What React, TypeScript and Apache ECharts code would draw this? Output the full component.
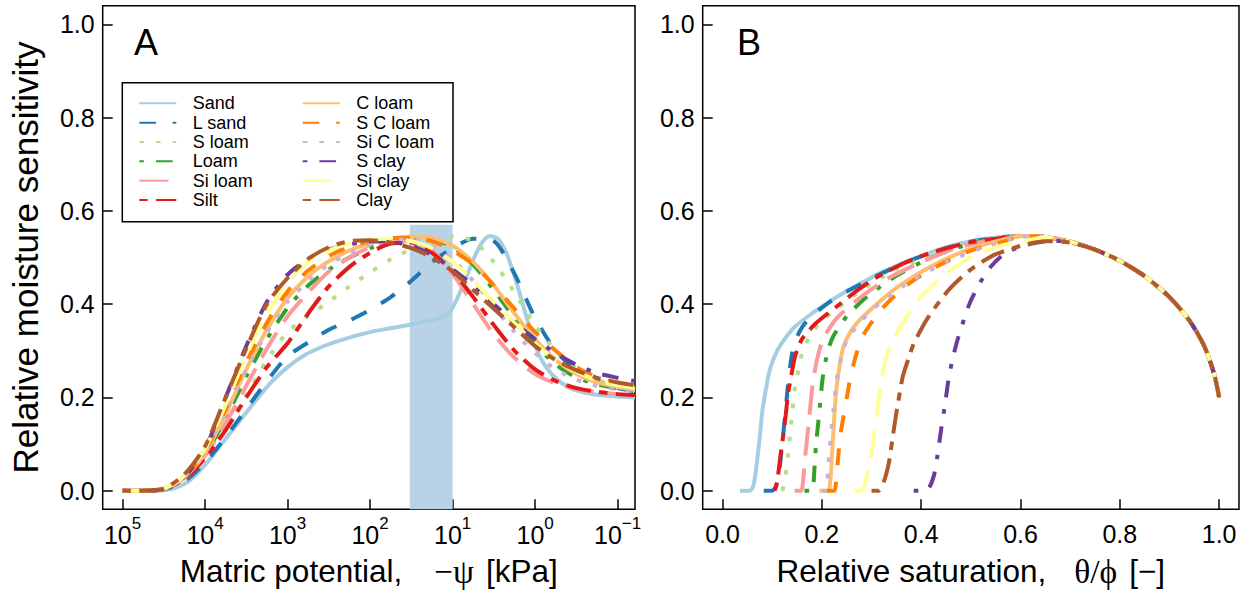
import React, { useEffect, useRef } from "react";
import * as echarts from "echarts";

// ---------- categories & styles ----------
const soilNames = ["Sand", "L sand", "S loam", "Loam", "Si loam", "Silt", "C loam", "S C loam", "Si C loam", "S clay", "Si clay", "Clay"];
const soilColors = ["#A6CEE3", "#1F78B4", "#B2DF8A", "#33A02C", "#FB9A99", "#E31A1C", "#FDBF6F", "#FF7F00", "#CAB2D6", "#6A3D9A", "#FFFF99", "#B15928"];

// ---------- panel A: x = log10(-psi [kPa]) ----------
const logPsiGrid = [5, 4.75, 4.5, 4.25, 4, 3.75, 3.5, 3.25, 3, 2.75, 2.5, 2.25, 2, 1.75, 1.5, 1.25, 1, 0.75, 0.5, 0.25, 0, -0.25, -0.5, -0.75, -1, -1.21];
const sandLogPsi = [5, 4.6, 4.4, 4.2, 4, 3.8, 3.6, 3.4, 3.2, 3, 2.8, 2.6, 2.4, 2.2, 2, 1.8, 1.6, 1.4, 1.2, 1.05, 0.95, 0.85, 0.75, 0.65, 0.55, 0.45, 0.35, 0.25, 0.15, 0.05, -0.05, -0.2, -0.4, -0.6, -0.9, -1.21];
const sandA = [0, 0, 0.004, 0.02, 0.055, 0.1, 0.145, 0.19, 0.232, 0.265, 0.29, 0.307, 0.32, 0.331, 0.34, 0.347, 0.353, 0.36, 0.368, 0.38, 0.41, 0.45, 0.495, 0.53, 0.546, 0.54, 0.51, 0.46, 0.4, 0.34, 0.29, 0.25, 0.222, 0.21, 0.203, 0.2];
const lSandA = [0, 0, 0.003, 0.02, 0.06, 0.115, 0.175, 0.235, 0.288, 0.318, 0.345, 0.365, 0.388, 0.415, 0.45, 0.49, 0.52, 0.54, 0.535, 0.465, 0.37, 0.3, 0.258, 0.235, 0.22, 0.213];
const sLoamA = [0, 0, 0.004, 0.025, 0.07, 0.135, 0.205, 0.28, 0.34, 0.375, 0.405, 0.438, 0.468, 0.496, 0.518, 0.535, 0.545, 0.535, 0.49, 0.425, 0.355, 0.3, 0.262, 0.238, 0.223, 0.216];
const loamA = [0, 0, 0.004, 0.028, 0.078, 0.155, 0.245, 0.325, 0.392, 0.44, 0.474, 0.5, 0.52, 0.535, 0.543, 0.54, 0.522, 0.485, 0.43, 0.37, 0.315, 0.27, 0.243, 0.228, 0.219, 0.214];
const siLoamA = [0, 0, 0.004, 0.027, 0.075, 0.145, 0.225, 0.305, 0.374, 0.425, 0.47, 0.5, 0.522, 0.535, 0.535, 0.515, 0.465, 0.4, 0.335, 0.285, 0.25, 0.23, 0.218, 0.211, 0.207, 0.205];
const siltA = [0, 0, 0.004, 0.025, 0.07, 0.13, 0.2, 0.265, 0.316, 0.38, 0.438, 0.48, 0.51, 0.53, 0.532, 0.51, 0.47, 0.415, 0.355, 0.3, 0.26, 0.235, 0.22, 0.212, 0.207, 0.205];
const cLoamA = [0, 0, 0.004, 0.028, 0.08, 0.165, 0.26, 0.345, 0.413, 0.46, 0.492, 0.515, 0.53, 0.54, 0.545, 0.542, 0.525, 0.49, 0.44, 0.38, 0.325, 0.28, 0.25, 0.232, 0.222, 0.216];
const sCLoamA = [0, 0, 0.004, 0.03, 0.085, 0.175, 0.275, 0.36, 0.427, 0.472, 0.503, 0.523, 0.535, 0.542, 0.542, 0.535, 0.515, 0.485, 0.44, 0.39, 0.34, 0.3, 0.265, 0.243, 0.23, 0.222];
const siCLoamA = [0, 0, 0.004, 0.03, 0.085, 0.17, 0.26, 0.34, 0.405, 0.45, 0.485, 0.51, 0.527, 0.537, 0.538, 0.525, 0.495, 0.45, 0.395, 0.34, 0.295, 0.26, 0.238, 0.225, 0.217, 0.213];
const sClayA = [0, 0, 0.003, 0.03, 0.09, 0.2, 0.31, 0.405, 0.463, 0.497, 0.517, 0.528, 0.535, 0.534, 0.525, 0.505, 0.475, 0.44, 0.4, 0.36, 0.325, 0.295, 0.27, 0.252, 0.242, 0.235];
const siClayA = [0, 0, 0.004, 0.032, 0.09, 0.185, 0.29, 0.38, 0.445, 0.49, 0.515, 0.53, 0.538, 0.54, 0.535, 0.52, 0.49, 0.45, 0.405, 0.36, 0.315, 0.28, 0.255, 0.237, 0.226, 0.22];
const clayA = [0, 0, 0.004, 0.035, 0.095, 0.2, 0.305, 0.4, 0.456, 0.497, 0.522, 0.535, 0.537, 0.532, 0.52, 0.5, 0.47, 0.43, 0.39, 0.35, 0.31, 0.28, 0.258, 0.242, 0.232, 0.226];
const bandKPa = [33, 10];
const bandTop = 0.57;

// ---------- panel B: x = relative saturation ----------
const arcB = [[0.6, 0.546], [0.65, 0.544], [0.7, 0.534], [0.75, 0.517], [0.8, 0.493], [0.85, 0.46], [0.9, 0.415], [0.94, 0.365], [0.97, 0.31], [0.99, 0.25], [1.0, 0.2]];
const sandB = [[0.035, 0], [0.055, 0], [0.062, 0.01], [0.068, 0.05], [0.075, 0.116], [0.08, 0.17], [0.086, 0.209], [0.093, 0.25], [0.1, 0.275], [0.11, 0.3], [0.125, 0.325], [0.146, 0.352], [0.18, 0.38], [0.216, 0.406], [0.25, 0.428], [0.286, 0.449], [0.32, 0.468], [0.357, 0.485], [0.4, 0.503], [0.45, 0.522], [0.5, 0.535], [0.55, 0.543]];
const lSandB = [[0.083, 0], [0.1, 0], [0.108, 0.01], [0.115, 0.05], [0.12, 0.1], [0.126, 0.16], [0.132, 0.23], [0.139, 0.288], [0.146, 0.32], [0.16, 0.35], [0.18, 0.375], [0.216, 0.405], [0.25, 0.427], [0.3, 0.455], [0.357, 0.484], [0.42, 0.51], [0.5, 0.534], [0.55, 0.542]];
const sLoamB = [[0.12, 0], [0.125, 0.016], [0.132, 0.08], [0.139, 0.152], [0.146, 0.224], [0.153, 0.26], [0.16, 0.295], [0.175, 0.33], [0.195, 0.359], [0.23, 0.39], [0.28, 0.43], [0.35, 0.475], [0.42, 0.505], [0.5, 0.532], [0.55, 0.541]];
const loamB = [[0.165, 0], [0.181, 0], [0.184, 0.03], [0.188, 0.095], [0.195, 0.17], [0.202, 0.245], [0.212, 0.3], [0.223, 0.331], [0.251, 0.375], [0.293, 0.418], [0.349, 0.46], [0.42, 0.5], [0.5, 0.53], [0.55, 0.54]];
const siLoamB = [[0.145, 0], [0.158, 0], [0.163, 0.03], [0.167, 0.08], [0.174, 0.15], [0.181, 0.224], [0.19, 0.28], [0.202, 0.324], [0.23, 0.37], [0.272, 0.41], [0.328, 0.452], [0.4, 0.49], [0.47, 0.52], [0.55, 0.54]];
const siltB = [[0.105, 0], [0.11, 0.02], [0.116, 0.07], [0.121, 0.109], [0.127, 0.16], [0.132, 0.209], [0.139, 0.25], [0.146, 0.288], [0.16, 0.325], [0.188, 0.359], [0.23, 0.395], [0.272, 0.43], [0.314, 0.46], [0.37, 0.49], [0.42, 0.51], [0.5, 0.533], [0.55, 0.54]];
const cLoamB = [[0.195, 0], [0.2125, 0], [0.217, 0.02], [0.22, 0.07], [0.223, 0.123], [0.226, 0.175], [0.23, 0.224], [0.236, 0.27], [0.244, 0.31], [0.265, 0.352], [0.3, 0.39], [0.357, 0.44], [0.427, 0.485], [0.497, 0.518], [0.56, 0.537]];
const sCLoamB = [[0.21, 0], [0.225, 0], [0.23, 0.04], [0.237, 0.116], [0.247, 0.18], [0.258, 0.245], [0.27, 0.295], [0.286, 0.338], [0.321, 0.39], [0.37, 0.44], [0.43, 0.48], [0.5, 0.515], [0.57, 0.535]];
const siCLoamB = [[0.2, 0], [0.209, 0], [0.212, 0.04], [0.216, 0.095], [0.223, 0.17], [0.23, 0.238], [0.24, 0.29], [0.251, 0.324], [0.28, 0.365], [0.32, 0.405], [0.38, 0.45], [0.45, 0.49], [0.52, 0.52], [0.57, 0.535]];
const sClayB = [[0.385, 0], [0.402, 0], [0.415, 0.005], [0.425, 0.03], [0.432, 0.07], [0.44, 0.13], [0.448, 0.185], [0.456, 0.245], [0.465, 0.29], [0.475, 0.33], [0.497, 0.4], [0.518, 0.445], [0.54, 0.48], [0.57, 0.51], [0.623, 0.53], [0.67, 0.536], [0.72, 0.528]];
const siClayB = [[0.265, 0], [0.28, 0], [0.29, 0.03], [0.3, 0.08], [0.31, 0.16], [0.318, 0.224], [0.326, 0.27], [0.335, 0.302], [0.363, 0.36], [0.399, 0.415], [0.45, 0.465], [0.5, 0.5], [0.56, 0.525], [0.62, 0.538]];
const clayB = [[0.3, 0], [0.314, 0], [0.325, 0.02], [0.335, 0.06], [0.342, 0.11], [0.349, 0.16], [0.356, 0.205], [0.363, 0.245], [0.375, 0.285], [0.385, 0.315], [0.413, 0.37], [0.455, 0.43], [0.497, 0.472], [0.546, 0.505], [0.6, 0.525], [0.65, 0.535], [0.7, 0.532]];

// ---------- ticks ----------
const yTicks = [0, 0.2, 0.4, 0.6, 0.8, 1.0];
const xTicksA = [5, 4, 3, 2, 1, 0, -1];
const xTicksB = [0, 0.2, 0.4, 0.6, 0.8, 1.0];

const FONT = "Liberation Sans, Arial, sans-serif";
const SERIF = "Liberation Serif, DejaVu Serif, serif";
const U = 4.17;
const dashes: any[] = ["solid", [4 * U, 4 * U], [1.1 * U, 2.9 * U], [1.1 * U, 2.9 * U, 4 * U, 3 * U], [7 * U, 3 * U], [2 * U, 2 * U, 6 * U, 2 * U]];

const panelA: { x: number[]; y: number[] }[] = [
  { x: sandLogPsi, y: sandA },
  { x: logPsiGrid, y: lSandA },
  { x: logPsiGrid, y: sLoamA },
  { x: logPsiGrid, y: loamA },
  { x: logPsiGrid, y: siLoamA },
  { x: logPsiGrid, y: siltA },
  { x: logPsiGrid, y: cLoamA },
  { x: logPsiGrid, y: sCLoamA },
  { x: logPsiGrid, y: siCLoamA },
  { x: logPsiGrid, y: sClayA },
  { x: logPsiGrid, y: siClayA },
  { x: logPsiGrid, y: clayA },
];
const panelB = [sandB, lSandB, sLoamB, loamB, siLoamB, siltB, cLoamB, sCLoamB, siCLoamB, sClayB, siClayB, clayB];

function withArc(pts: number[][]) {
  const last = pts[pts.length - 1][0];
  return pts.concat(arcB.filter((p) => p[0] > last + 0.02));
}

export default function App() {
  const ref = useRef<HTMLDivElement>(null);
  useEffect(() => {
    if (!ref.current) return;
    const chart = echarts.init(ref.current, undefined, { renderer: "svg" });
    const lw = 4;
    const series: any[] = [];
    series.push({
      type: "line",
      name: "band",
      xAxisIndex: 0,
      yAxisIndex: 0,
      data: [],
      z: 1,
      silent: true,
      markArea: {
        silent: true,
        itemStyle: { color: "#B9D2E6" },
        data: [[{ xAxis: Math.log10(bandKPa[0]), yAxis: -0.04 }, { xAxis: Math.log10(bandKPa[1]), yAxis: bandTop }]],
      },
    });
    soilNames.forEach((name, i) => {
      const style = { color: soilColors[i], width: lw, type: dashes[i % 6], cap: "butt" };
      const a = panelA[i];
      series.push({
        type: "line",
        name,
        xAxisIndex: 0,
        yAxisIndex: 0,
        data: a.x.map((u, k) => [u, a.y[k]]),
        symbol: "none",
        smooth: 0.25,
        lineStyle: style,
        itemStyle: { color: soilColors[i], opacity: 0 },
        z: 3,
      });
      series.push({
        type: "line",
        name,
        xAxisIndex: 1,
        yAxisIndex: 1,
        data: withArc(panelB[i]),
        symbol: "none",
        smooth: 0.25,
        lineStyle: style,
        itemStyle: { color: soilColors[i], opacity: 0 },
        z: 3,
      });
    });

    const tickStyle = { color: "#000", width: 1.5 };
    const yAxisBase = (grid: number, withName: boolean) => ({
      type: "value",
      gridIndex: grid,
      min: -0.04,
      max: 1.04,
      splitLine: { show: false },
      axisLine: { show: false, onZero: false },
      axisTick: { inside: true, length: 10, lineStyle: tickStyle, customValues: yTicks },
      axisLabel: {
        customValues: yTicks,
        margin: 8,
        color: "#000",
        fontSize: 25,
        fontFamily: FONT,
        formatter: (v: number) => v.toFixed(1),
      },
      name: withName ? "Relative moisture sensitivity" : "",
      nameLocation: "middle",
      nameGap: 60,
      nameTextStyle: { color: "#000", fontSize: 35, fontFamily: FONT },
    });

    const legendText = {
      color: "#000",
      fontSize: 18,
      fontFamily: FONT,
      lineHeight: 19.33,
      rich: { p: { padding: [0, 0, 0, 11.5], fontSize: 18, lineHeight: 19.33, fontFamily: FONT, color: "#000" } },
    };
    const legendBase = {
      orient: "vertical",
      itemWidth: 37,
      itemHeight: 10,
      itemGap: 0,
      padding: 0,
      itemStyle: { opacity: 0, borderWidth: 0 },
      textStyle: legendText,
      formatter: (n: string) => `{p|${n}}`,
    };

    const nameStyle = (sz: number, gap: number) => ({
      color: "#000",
      fontSize: sz,
      fontFamily: FONT,
      rich: {
        g: { fontSize: sz + 2, fontFamily: SERIF, color: "#000", padding: [0, 0, 0, gap] },
        k: { fontSize: sz, fontFamily: FONT, color: "#000", padding: [0, 0, 0, 12] },
      },
    });

    const option: any = {
      animation: false,
      grid: [
        { left: 102.7, top: 5.7, width: 532.3, height: 503.6, show: true, borderColor: "#000", borderWidth: 1.5, backgroundColor: "transparent" },
        { left: 702.7, top: 5.7, width: 536.3, height: 503.6, show: true, borderColor: "#000", borderWidth: 1.5, backgroundColor: "transparent" },
      ],
      xAxis: [
        {
          type: "value",
          gridIndex: 0,
          min: -1.21,
          max: 5.24,
          inverse: true,
          splitLine: { show: false },
          axisLine: { show: false, onZero: false },
          axisTick: { inside: true, length: 10, lineStyle: tickStyle, customValues: xTicksA },
          axisLabel: {
            customValues: xTicksA,
            margin: 6,
            color: "#000",
            formatter: (v: number) => `{b|10}{s|${v < 0 ? "\u2212" + -v : v}}`,
            rich: {
              b: { fontSize: 25, lineHeight: 40, fontFamily: FONT, color: "#000" },
              s: { fontSize: 17, lineHeight: 17, fontFamily: FONT, color: "#000", verticalAlign: "top" },
            },
          },
          name: "Matric potential,{g|\u2212\u03C8}{k|[kPa]}",
          nameLocation: "middle",
          nameGap: 45,
          nameTextStyle: nameStyle(31.5, 32),
        },
        {
          type: "value",
          gridIndex: 1,
          min: -0.04,
          max: 1.04,
          splitLine: { show: false },
          axisLine: { show: false, onZero: false },
          axisTick: { inside: true, length: 10, lineStyle: tickStyle, customValues: xTicksB },
          axisLabel: {
            customValues: xTicksB,
            margin: 12,
            color: "#000",
            fontSize: 25,
            fontFamily: FONT,
            formatter: (v: number) => v.toFixed(1),
          },
          name: "Relative saturation,{g|\u03B8/\u03D5}{k|[\u2212]}",
          nameLocation: "middle",
          nameGap: 45,
          nameTextStyle: nameStyle(31.5, 28),
        },
      ],
      yAxis: [yAxisBase(0, true), yAxisBase(1, false)],
      legend: [
        { ...legendBase, left: 138.3, top: 93.7, data: soilNames.slice(0, 6) },
        { ...legendBase, left: 301.7, top: 93.7, data: soilNames.slice(6) },
      ],
      graphic: [
        { type: "rect", shape: { x: 122.3, y: 82.7, width: 330.7, height: 139 }, style: { fill: "none", stroke: "#000", lineWidth: 1.5 }, z: 10 },
        { type: "text", left: 134, top: 24, style: { text: "A", fontSize: 36, fontFamily: FONT, fill: "#000" }, z: 10 },
        { type: "text", left: 737, top: 24, style: { text: "B", fontSize: 36, fontFamily: FONT, fill: "#000" }, z: 10 },
      ],
      series,
    };
    chart.setOption(option);
    return () => chart.dispose();
  }, []);
  return <div ref={ref} style={{ position: "fixed", left: 0, top: 0, width: 1247, height: 599, background: "#fff" }} />;
}
